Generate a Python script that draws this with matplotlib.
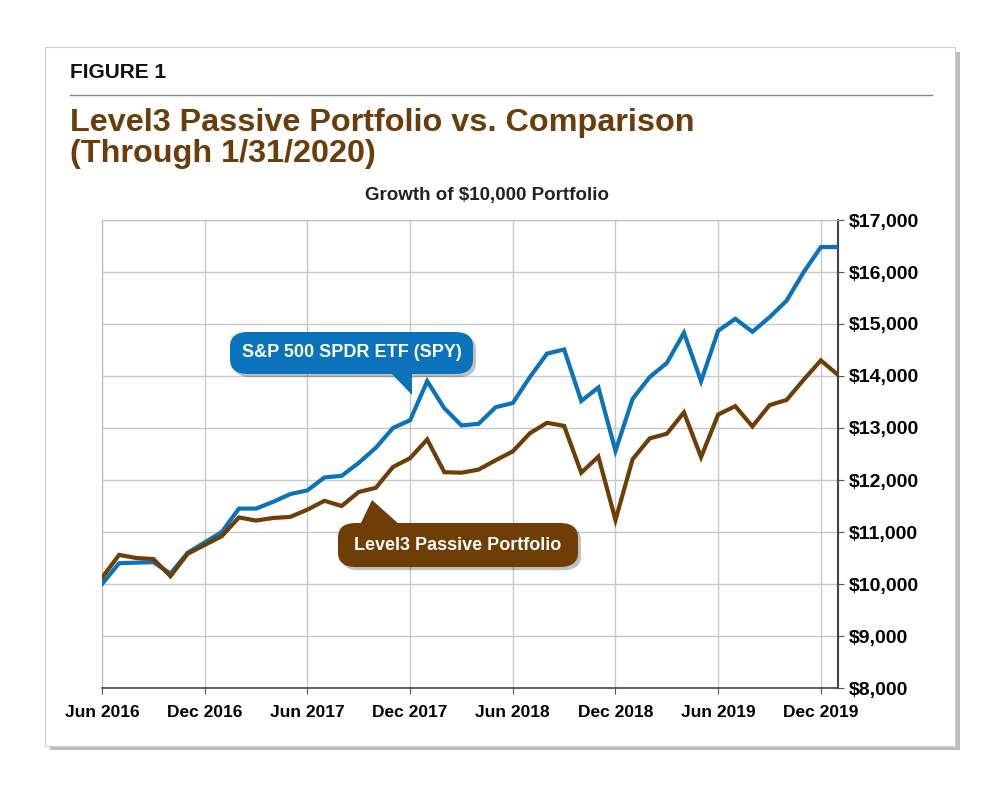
import matplotlib
matplotlib.use("Agg")
import matplotlib.pyplot as plt
from matplotlib.patches import FancyBboxPatch, Polygon, Rectangle

spy = [10000,10400,10410,10420,10200,10600,10800,11000,11450,11450,11580,11730,11800,12050,12080,12330,
       12620,13000,13150,13900,13380,13050,13080,13400,13480,13980,14430,14510,13520,13780,12560,13560,
       13980,14250,14830,13900,14870,15100,14850,15130,15450,16000,16480,16480]
lvl3 = [10120,10560,10500,10480,10150,10580,10750,10920,11280,11220,11270,11290,11430,11600,11500,11770,
        11850,12250,12420,12780,12150,12140,12200,12380,12550,12900,13100,13040,12140,12450,11230,12400,
        12800,12890,13300,12440,13260,13420,13030,13440,13540,13930,14300,14020]
xtick_labels = ["Jun 2016","Dec 2016","Jun 2017","Dec 2017","Jun 2018","Dec 2018","Jun 2019","Dec 2019"]
yticks = list(range(8000, 17001, 1000))

plt.rcParams['font.family'] = ['Liberation Sans', 'DejaVu Sans']
BLUE = "#0a73bb"; BROWN = "#6f3d06"

fig = plt.figure(figsize=(10, 8), dpi=100)
fig.patch.set_facecolor("white")
fig.patches.append(Rectangle((0.050, 0.062), 0.910, 0.873, transform=fig.transFigure, facecolor="#bdbdbd", edgecolor="none", zorder=-2))
fig.patches.append(Rectangle((0.045, 0.068), 0.910, 0.873, transform=fig.transFigure, facecolor="white", edgecolor="#d0d0d0", lw=0.8, zorder=-1))

fig.text(0.07, 0.902, "FIGURE 1", fontsize=15, fontweight="bold", color="#111111")
fig.add_artist(plt.Line2D([0.07, 0.932], [0.881, 0.881], color="#888888", lw=1))
fig.text(0.07, 0.827, "Level3 Passive Portfolio vs. Comparison\n(Through 1/31/2020)", fontsize=23.3,
         fontweight="bold", color="#6b3d0a", va="center", linespacing=1.05)
fig.text(0.487, 0.75, "Growth of $10,000 Portfolio", fontsize=13.5, fontweight="bold", ha="center", color="#222222")

ax = fig.add_axes([0.102, 0.14, 0.736, 0.585], zorder=1)
x = list(range(len(spy)))
ax.plot(x, spy, color=BLUE, lw=3, solid_joinstyle="miter", zorder=3)
ax.plot(x, lvl3, color=BROWN, lw=3, solid_joinstyle="miter", zorder=3)
ax.set_xlim(0, 43)
ax.set_ylim(8000, 17000)
ax.set_xticks(list(range(0, 43, 6)))
ax.set_xticklabels(xtick_labels, fontsize=12.5, fontweight="bold")
ax.set_yticks(yticks)
ax.set_yticklabels([f"${v:,}" for v in yticks], fontsize=14, fontweight="bold")
ax.yaxis.tick_right()
ax.tick_params(axis="y", length=4, pad=4, direction="out", color="#555555")
ax.tick_params(axis="x", length=4, pad=8, color="#555555")
ax.grid(True, color="#c8c8c8", lw=1)
for s in ["top", "left"]:
    ax.spines[s].set_color("#bbbbbb")
ax.spines["right"].set_color("#444444"); ax.spines["right"].set_linewidth(1.5)
ax.spines["bottom"].set_color("#444444"); ax.spines["bottom"].set_linewidth(1.2)

def callout(x0, y0, w, h, tip, color, text):
    T = fig.transFigure
    fig.patches.append(FancyBboxPatch((x0/1000+0.003, 1-(y0+h)/800-0.004), w/1000, h/800, boxstyle="round,pad=0,rounding_size=0.018",
                                      transform=T, facecolor="#00000040", edgecolor="none", zorder=5))
    fig.patches.append(Polygon([(p[0]/1000, 1-p[1]/800) for p in tip], closed=True, transform=T, facecolor=color, edgecolor="none", zorder=6))
    fig.patches.append(FancyBboxPatch((x0/1000, 1-(y0+h)/800), w/1000, h/800, boxstyle="round,pad=0,rounding_size=0.018",
                                      transform=T, facecolor=color, edgecolor="none", zorder=6))
    fig.text((x0+w/2)/1000, 1-(y0+h/2)/800, text, color="white", fontsize=13, fontweight="bold", ha="center", va="center", zorder=7)

callout(230, 332, 243, 42, [(390, 372), (412, 372), (412, 395)], BLUE, "S&P 500 SPDR ETF (SPY)")
callout(338, 523, 240, 44, [(372, 500), (360, 525), (400, 525)], BROWN, "Level3 Passive Portfolio")

fig.savefig("out.png", dpi=100, facecolor="white")
